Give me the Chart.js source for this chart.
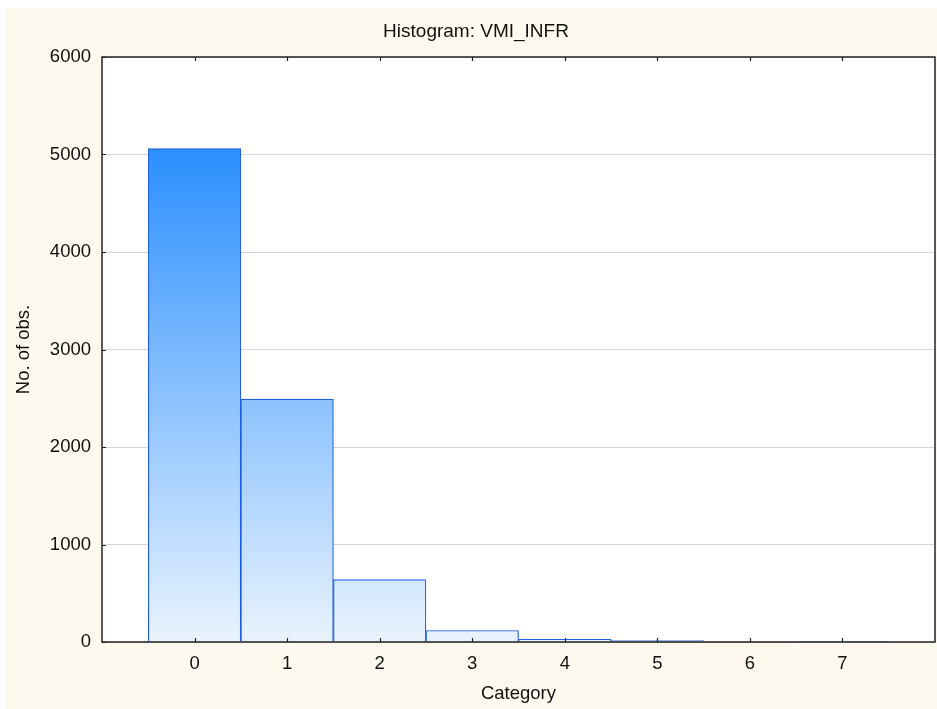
<!DOCTYPE html>
<html>
<head>
<meta charset="utf-8">
<script src="https://cdn.jsdelivr.net/npm/chart.js@4/dist/chart.umd.min.js"></script>
<style>
  html, body { margin: 0; padding: 0; background: #ffffff; }
  canvas { display: block; }
</style>
</head>
<body>
<canvas id="hist" width="937" height="709"></canvas>
<script>
// histogram data
const categories = [0, 1, 2, 3, 4, 5, 6, 7];
const counts = [5060, 2492, 640, 118, 28, 14, 5, 4];
const yTicks = [0, 1000, 2000, 3000, 4000, 5000, 6000];
const chartTitle = 'Histogram: VMI_INFR';
const xTitle = 'Category';
const yTitle = 'No. of obs.';

const FONT = '"Liberation Sans", Arial, sans-serif';

// cream background, frame, title and inward tick marks
const framePlugin = {
  id: 'frame',
  beforeDraw(chart) {
    const ctx = chart.ctx;
    ctx.save();
    ctx.fillStyle = '#ffffff';
    ctx.fillRect(0, 0, chart.width, chart.height);
    ctx.fillStyle = '#fdf9ee';
    ctx.fillRect(5, 8, chart.width - 5, chart.height - 8);
    const a = chart.chartArea;
    ctx.fillStyle = '#ffffff';
    ctx.fillRect(a.left, a.top, a.right - a.left, a.bottom - a.top);
    ctx.restore();
  },
  afterDraw(chart) {
    const ctx = chart.ctx;
    const a = chart.chartArea;
    const xs = chart.scales.x, ys = chart.scales.y;
    ctx.save();
    ctx.strokeStyle = '#222222';
    ctx.lineWidth = 1.5;
    ctx.strokeRect(a.left, a.top, a.right - a.left, a.bottom - a.top);
    ctx.lineWidth = 1.2;
    ctx.beginPath();
    categories.forEach(c => {
      const px = Math.round(xs.getPixelForValue(c)) + 0.5;
      ctx.moveTo(px, a.bottom); ctx.lineTo(px, a.bottom - 4);
      ctx.moveTo(px, a.top); ctx.lineTo(px, a.top + 4);
    });
    yTicks.forEach(v => {
      const py = Math.round(ys.getPixelForValue(v)) + 0.5;
      ctx.moveTo(a.left, py); ctx.lineTo(a.left + 4, py);
    });
    ctx.stroke();
    // title
    ctx.fillStyle = '#111111';
    ctx.font = '19px ' + FONT;
    ctx.textAlign = 'center';
    ctx.textBaseline = 'middle';
    ctx.fillText(chartTitle, 476, 32);
    ctx.restore();
  }
};

const ctx = document.getElementById('hist');
new Chart(ctx, {
  type: 'bar',
  data: {
    datasets: [{
      label: yTitle,
      data: categories.map((c, i) => ({ x: c, y: counts[i] })),
      borderColor: '#1f5fe0',
      borderWidth: 1.2,
      barPercentage: 1,
      categoryPercentage: 1,
      backgroundColor: (context) => {
        const chart = context.chart;
        const area = chart.chartArea;
        if (!area) return '#8cc2fd';
        const ys = chart.scales.y;
        const g = chart.ctx.createLinearGradient(0, ys.getPixelForValue(0), 0, ys.getPixelForValue(Math.max(...counts)));
        g.addColorStop(0, '#e9f3fe');
        g.addColorStop(1, '#2b8ffe');
        return g;
      }
    }]
  },
  options: {
    responsive: false,
    animation: false,
    layout: { padding: { top: 57, right: 2, bottom: 0, left: 5 } },
    plugins: {
      legend: { display: false },
      tooltip: { enabled: false },
      title: { display: false }
    },
    scales: {
      x: {
        type: 'linear',
        min: -1,
        max: 8,
        offset: false,
        afterFit: (s) => { s.height = 67; s.paddingLeft = 0; s.paddingRight = 0; },
        grid: { display: false, drawTicks: false, offset: false },
        border: { display: false },
        ticks: {
          stepSize: 1,
          autoSkip: false,
          padding: 11,
          color: '#111111',
          font: { family: FONT, size: 18.5 },
          callback: (v) => categories.includes(v) ? String(v) : ''
        },
        title: {
          display: true,
          text: xTitle,
          color: '#111111',
          font: { family: FONT, size: 18.5 },
          padding: { top: 0, bottom: 4 }
        }
      },
      y: {
        min: 0,
        max: 6000,
        afterFit: (s) => { s.width = 97; },
        grid: { color: '#d6d6d6', lineWidth: 1, drawTicks: false },
        border: { display: false },
        ticks: {
          stepSize: 1000,
          padding: 11,
          color: '#111111',
          font: { family: FONT, size: 18.5 },
          callback: (v) => String(v)
        },
        title: {
          display: true,
          text: yTitle,
          color: '#111111',
          font: { family: FONT, size: 18.5 },
          padding: { top: 8, bottom: 0 }
        }
      }
    }
  },
  plugins: [framePlugin]
});
</script>
</body>
</html>
